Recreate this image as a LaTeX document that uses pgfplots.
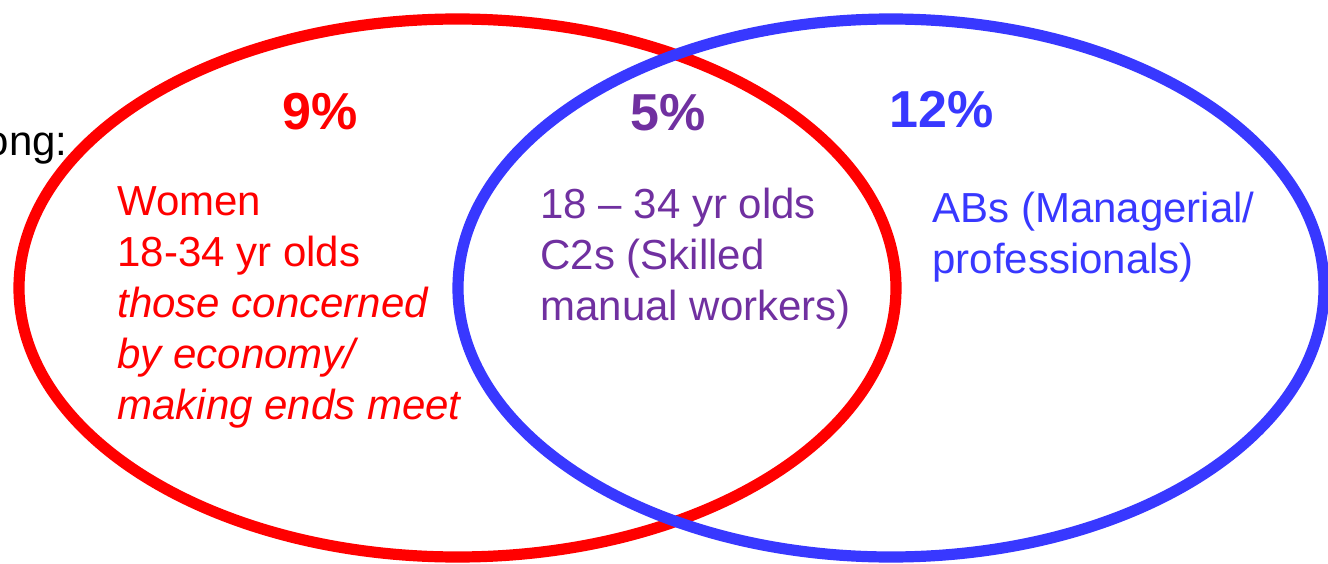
\documentclass[border=0pt]{standalone}
\usepackage{pgfplots}
\pgfplotsset{compat=1.18}
\usepackage{fontspec}
\setmainfont{Liberation Sans}
\definecolor{vred}{RGB}{255,0,0}
\definecolor{vblue}{RGB}{56,56,255}
\definecolor{vpurple}{RGB}{112,48,160}
\begin{document}
\begin{tikzpicture}
\begin{axis}[
  scale only axis, width=664pt, height=281.5pt,
  xmin=0, xmax=1328, ymin=0, ymax=563,
  hide axis, clip=false,
]
% ellipses (centre x, centre y, x radius, y radius) in pixel units
\draw[vred, line width=5.6pt] (axis cs:457.5,275) ellipse [x radius=438.5, y radius=269];
\draw[vblue, line width=5.6pt] (axis cs:891,275) ellipse [x radius=433, y radius=269];
\tikzset{t/.style={inner sep=0pt, anchor=base west, font=\fontsize{21}{25.4}\selectfont}}
% percentages
\node[inner sep=0pt, anchor=base, text=vred, font=\fontsize{26}{30}\selectfont\bfseries] at (axis cs:320,433) {9\%};
\node[inner sep=0pt, anchor=base, text=vpurple, font=\fontsize{26}{30}\selectfont\bfseries] at (axis cs:668,432) {5\%};
\node[inner sep=0pt, anchor=base, text=vblue, font=\fontsize{26}{30}\selectfont\bfseries] at (axis cs:942,436) {12\%};
% cut-off text on the left
\node[inner sep=0pt, anchor=base east, font=\fontsize{21}{25.4}\selectfont] at (axis cs:68,408) {Among:};
% red block
\node[t, text=vred] at (axis cs:117,348) {Women};
\node[t, text=vred] at (axis cs:117,297) {18-34 yr olds};
\node[t, text=vred] at (axis cs:117,246) {\itshape those concerned};
\node[t, text=vred] at (axis cs:117,195) {\itshape by economy/};
\node[t, text=vred] at (axis cs:117,144) {\itshape making ends meet};
% purple block
\node[t, text=vpurple] at (axis cs:540,345) {18 – 34 yr olds};
\node[t, text=vpurple] at (axis cs:540,294) {C2s (Skilled};
\node[t, text=vpurple] at (axis cs:540,243) {manual workers)};
% blue block
\node[t, text=vblue] at (axis cs:932,341) {ABs (Managerial/};
\node[t, text=vblue] at (axis cs:932,290) {professionals)};
\end{axis}
\pgfresetboundingbox
\path (current axis.south west) rectangle (current axis.north east);
\end{tikzpicture}
\end{document}
